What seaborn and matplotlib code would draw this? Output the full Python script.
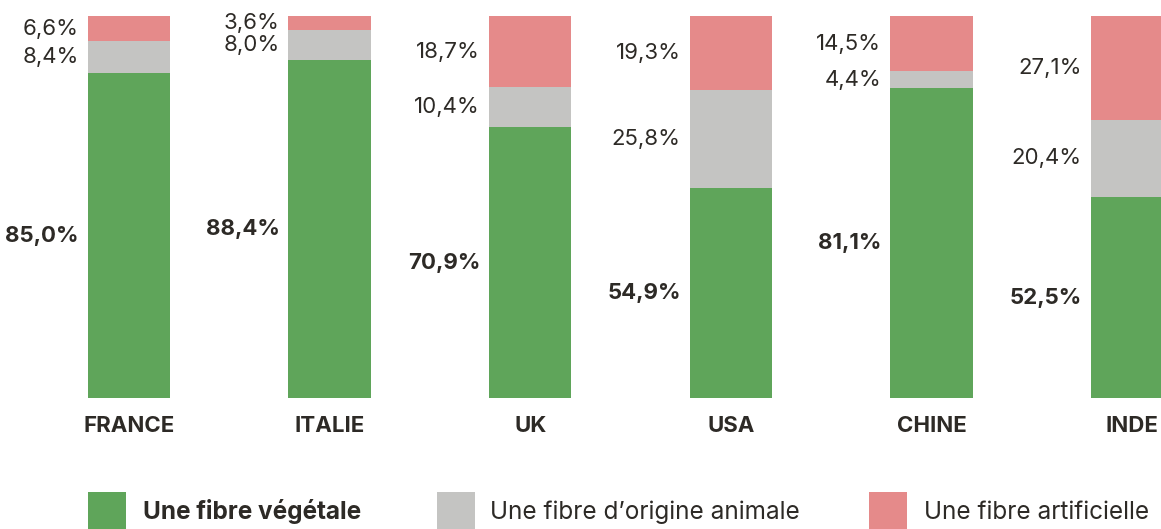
import matplotlib.pyplot as plt
import numpy as np
import pandas as pd
import seaborn as sns
from matplotlib.patches import Rectangle

# Data
countries = ["FRANCE", "ITALIE", "UK", "USA", "CHINE", "INDE"]
vegetale = [85.0, 88.4, 70.9, 54.9, 81.1, 52.5]
animale = [8.4, 8.0, 10.4, 25.8, 4.4, 20.4]
artificielle = [6.6, 3.6, 18.7, 19.3, 14.5, 27.1]

series_labels = ["Une fibre végétale", "Une fibre d’origine animale", "Une fibre artificielle"]
series_colors = ["#5fa55a", "#c4c4c2", "#e58a8a"]
TEXT = "#2d2a26"

sns.set_theme(style="white")
plt.rcParams["font.family"] = ["Inter", "DejaVu Sans"]

df = pd.DataFrame(
    {
        "pays": countries,
        "vegetale": vegetale,
        "animale": animale,
        "artificielle": artificielle,
    }
)
df["cum_green"] = df["vegetale"]
df["cum_gray"] = df["vegetale"] + df["animale"]
df["cum_pink"] = df["cum_gray"] + df["artificielle"]

fig = plt.figure(figsize=(11.61, 5.29), dpi=100)
ax = fig.add_axes([0, 1 - 398 / 529, 1, (398 - 16) / 529])

bar_w = 0.41
# Stack by overlaying cumulative totals, tallest first
for col, color in [("cum_pink", series_colors[2]), ("cum_gray", series_colors[1]), ("cum_green", series_colors[0])]:
    sns.barplot(
        data=df, x="pays", y=col, order=countries, color=color,
        saturation=1, width=bar_w, errorbar=None, ax=ax, linewidth=0,
    )

ax.set_xlim(-129 / 200.6, (1161 - 129) / 200.6)
ax.set_ylim(0, 100)
ax.set_xlabel("")
ax.set_ylabel("")
ax.set_yticks([])
sns.despine(ax=ax, left=True, bottom=True)
ax.tick_params(axis="x", length=0, pad=13, labelsize=16, labelcolor=TEXT)
for lab in ax.get_xticklabels():
    lab.set_fontweight("bold")


def fmt(v):
    return f"{v:.1f}%".replace(".", ",")


# Value labels left of each segment
for i in range(len(countries)):
    x = i - bar_w / 2 - 0.045
    g, a, r = vegetale[i], animale[i], artificielle[i]
    ax.text(x, g / 2, fmt(g), ha="right", va="center", fontsize=16,
            fontweight="bold", color=TEXT)
    ax.text(x, g + a / 2, fmt(a), ha="right", va="center", fontsize=16, color=TEXT)
    ax.text(x, g + a + r / 2, fmt(r), ha="right", va="center", fontsize=16, color=TEXT)

# Legend drawn at fixed positions along the bottom
sq_x = [88, 437, 869]
txt_x = [143, 490, 924]
for k in range(3):
    fig.add_artist(Rectangle((sq_x[k] / 1161, 0), 38 / 1161, 37 / 529,
                             transform=fig.transFigure, color=series_colors[k], lw=0))
    fig.text(txt_x[k] / 1161, 1 - 519 / 529, series_labels[k], fontsize=17.5,
             color=TEXT, va="baseline", ha="left",
             fontweight="bold" if k == 0 else "normal")

fig.savefig("out.png", dpi=100, facecolor="white")
